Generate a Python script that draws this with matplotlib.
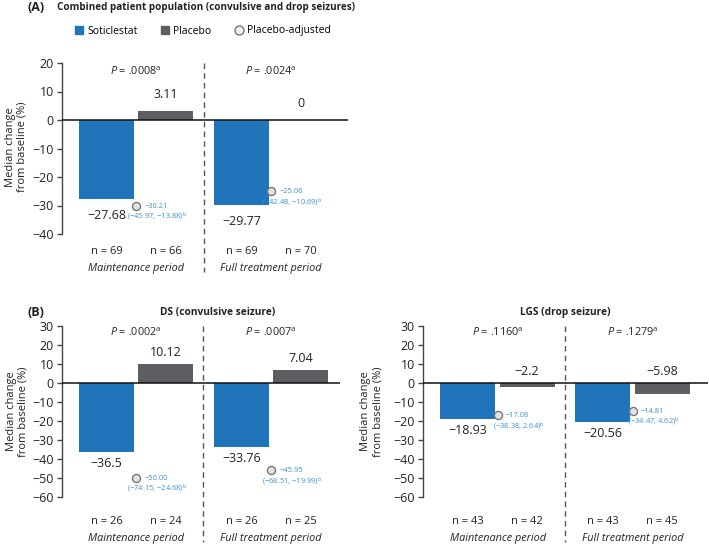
import matplotlib
matplotlib.use("Agg")
import matplotlib.pyplot as plt
from matplotlib.lines import Line2D
from matplotlib.transforms import blended_transform_factory

plt.rcParams['font.family'] = ['Open Sans', 'DejaVu Sans']
plt.rcParams['mathtext.fontset'] = 'custom'
plt.rcParams['mathtext.rm'] = 'Open Sans'
plt.rcParams['mathtext.it'] = 'Open Sans:italic'
plt.rcParams['mathtext.bf'] = 'Open Sans:bold'

# ---------------- data ----------------
periods = ["Maintenance period", "Full treatment period"]

a_soti = [-27.68, -29.77]
a_plac = [3.11, 0]
a_adj = [-30.21, -25.06]
a_ci_lo = [-45.97, -42.48]
a_ci_hi = [-13.88, -10.69]
a_n_soti = [69, 69]
a_n_plac = [66, 70]
a_p = [".0008", ".0024"]

ds_soti = [-36.5, -33.76]
ds_plac = [10.12, 7.04]
ds_adj = [-50.00, -45.95]
ds_ci_lo = [-74.15, -68.51]
ds_ci_hi = [-24.68, -19.99]
ds_n_soti = [26, 26]
ds_n_plac = [24, 25]
ds_p = [".0002", ".0007"]

lgs_soti = [-18.93, -20.56]
lgs_plac = [-2.2, -5.98]
lgs_adj = [-17.08, -14.81]
lgs_ci_lo = [-38.38, -34.47]
lgs_ci_hi = [2.64, 4.62]
lgs_n_soti = [43, 43]
lgs_n_plac = [42, 45]
lgs_p = [".1160", ".1279"]

a_yticks = [20, 10, 0, -10, -20, -30, -40]
b_yticks = [30, 20, 10, 0, -10, -20, -30, -40, -50, -60]

# ---------------- style ----------------
BLUE = "#1f74ba"
GRAY = "#5d5e61"
LBLUE = "#3b8fd6"
TXT = "#222222"
W, H = 709, 546
DPI = 100


def fmt(v):
    s = f"{v:g}"
    return s.replace("-", "\u2212")


def fmt2(v):
    return f"{v:.2f}".replace("-", "\u2212")


fig = plt.figure(figsize=(W / DPI, H / DPI), dpi=DPI)


def ax_rect(l, r, top, bot):
    return [l / W, 1 - bot / H, (r - l) / W, (bot - top) / H]


def panel(ax, soti, plac, adj, lo, hi, n_s, n_p, pvals, yticks, xlim,
          lab_off, n_y, per_y, dash_bot, p_y):
    off = 0.219
    bw = 0.407
    xs = list(range(len(periods)))
    ax.set_xlim(*xlim)
    ax.set_ylim(min(yticks), max(yticks))
    ax.bar([x - off for x in xs], soti, width=bw, color=BLUE, zorder=2)
    ax.bar([x + off for x in xs], plac, width=bw, color=GRAY, zorder=2)
    ax.axhline(0, color="#111111", lw=1.1, zorder=3)
    ax.plot(xs, adj, ls="none", marker="o", ms=5.8, mfc="#e2e2e2",
            mec="#777777", mew=1.0, zorder=5, clip_on=False)
    for x, s, p, a, l, h, ns, npl, pv in zip(xs, soti, plac, adj, lo, hi,
                                              n_s, n_p, pvals):
        ax.annotate(fmt(s), (x - off, min(s, 0)), xytext=(0, -lab_off),
                    textcoords="offset points", ha="center", va="top",
                    fontsize=9, color=TXT)
        ax.annotate(fmt(p), (x + off, max(p, 0)), xytext=(0, lab_off),
                    textcoords="offset points", ha="center", va="bottom",
                    fontsize=9, color=TXT)
        ax.annotate(fmt2(a), (x, a), xytext=(14.5, 0),
                    textcoords="offset points", ha="center", va="center",
                    fontsize=5.4, color=LBLUE)
        ax.annotate("(" + fmt2(l) + ", " + fmt2(h) + r")$^{\rm b}$", (x, a),
                    xytext=(15.5, -8), textcoords="offset points",
                    ha="center", va="center", fontsize=5.4, color=LBLUE)
        tr = blended_transform_factory(ax.transData, ax.transAxes)
        ax.text(x - off, n_y, f"n = {ns}", transform=tr, ha="center",
                va="center", fontsize=8, color=TXT)
        ax.text(x + off, n_y, f"n = {npl}", transform=tr, ha="center",
                va="center", fontsize=8, color=TXT)
        ax.text(x, per_y, periods[x], transform=tr, ha="center", va="center",
                fontsize=7.8, style="italic", color=TXT)
        ax.text(x, p_y, r"$\it{P}$ = " + pv + r"$^{\rm a}$", transform=tr,
                ha="center", va="center", fontsize=7.8, color=TXT)
    tr = blended_transform_factory(ax.transData, ax.transAxes)
    ax.plot([0.5, 0.5], [1.0, dash_bot], transform=tr, clip_on=False,
            color="#555555", lw=1.0, ls=(0, (4, 3)), zorder=1)
    for sp in ["top", "right", "bottom"]:
        ax.spines[sp].set_visible(False)
    ax.spines["left"].set_color("#444444")
    ax.spines["left"].set_linewidth(1.0)
    ax.set_xticks([])
    ax.set_yticks(yticks)
    ax.tick_params(axis="y", direction="out", length=3.5, width=1.0,
                   color="#444444", labelsize=9, labelcolor=TXT, pad=2.5)
    ax.set_yticklabels([fmt(t) for t in yticks])


# Panel A
axA = fig.add_axes(ax_rect(62, 348, 63, 234))
panel(axA, a_soti, a_plac, a_adj, a_ci_lo, a_ci_hi, a_n_soti, a_n_plac, a_p,
      a_yticks, (-0.548, 1.570), 7, -0.10, -0.20, -0.225, 0.947)
axA.text(-0.16, 0.51, "Median change\nfrom baseline (%)", transform=axA.transAxes,
         rotation=90, ha="center", va="center", fontsize=8, color=TXT,
         linespacing=1.1)

# Panel B left (DS)
axB1 = fig.add_axes(ax_rect(62, 340, 326, 497))
panel(axB1, ds_soti, ds_plac, ds_adj, ds_ci_lo, ds_ci_hi, ds_n_soti, ds_n_plac,
      ds_p, b_yticks, (-0.548, 1.511), 3.5, -0.146, -0.24, -0.265, 0.959)
axB1.text(-0.162, 0.5, "Median change\nfrom baseline (%)", transform=axB1.transAxes,
          rotation=90, ha="center", va="center", fontsize=8, color=TXT,
          linespacing=1.1)
axB1.text(0.561, 1.08, "DS (convulsive seizure)", transform=axB1.transAxes,
          ha="center", va="center", fontsize=7.3, fontweight="bold", color=TXT)

# Panel B right (LGS)
axB2 = fig.add_axes(ax_rect(423, 708, 326, 497))
panel(axB2, lgs_soti, lgs_plac, lgs_adj, lgs_ci_lo, lgs_ci_hi, lgs_n_soti,
      lgs_n_plac, lgs_p, b_yticks, (-0.552, 1.559), 3.5, -0.146, -0.24, -0.265,
      0.959)
axB2.text(-0.18, 0.5, "Median change\nfrom baseline (%)", transform=axB2.transAxes,
          rotation=90, ha="center", va="center", fontsize=8, color=TXT,
          linespacing=1.1)
axB2.text(0.498, 1.08, "LGS (drop seizure)", transform=axB2.transAxes,
          ha="center", va="center", fontsize=7.3, fontweight="bold", color=TXT)

# Titles
fig.text(27 / W, 1 - 7.5 / H, "(A)", ha="left", va="center", fontsize=9,
         fontweight="bold", color=TXT)
fig.text(57 / W, 1 - 7.5 / H,
         "Combined patient population (convulsive and drop seizures)",
         ha="left", va="center", fontsize=7.1, fontweight="bold", color=TXT)
fig.text(27 / W, 1 - 312 / H, "(B)", ha="left", va="center", fontsize=9,
         fontweight="bold", color=TXT)

# Legend
handles = [
    Line2D([], [], ls="none", marker="s", ms=6, mfc=BLUE, mec=BLUE),
    Line2D([], [], ls="none", marker="s", ms=6, mfc=GRAY, mec=GRAY),
    Line2D([], [], ls="none", marker="o", ms=6.5, mfc="#f2f2f2", mec="#777777"),
]
fig.legend(handles, ["Soticlestat", "Placebo", "Placebo-adjusted"],
           loc="center", bbox_to_anchor=(203 / W, 1 - 31 / H), ncol=3,
           frameon=False, fontsize=7.5, handlelength=0.8, handletextpad=0.4,
           columnspacing=2.2, borderpad=0)

fig.savefig("out.png", dpi=DPI)
